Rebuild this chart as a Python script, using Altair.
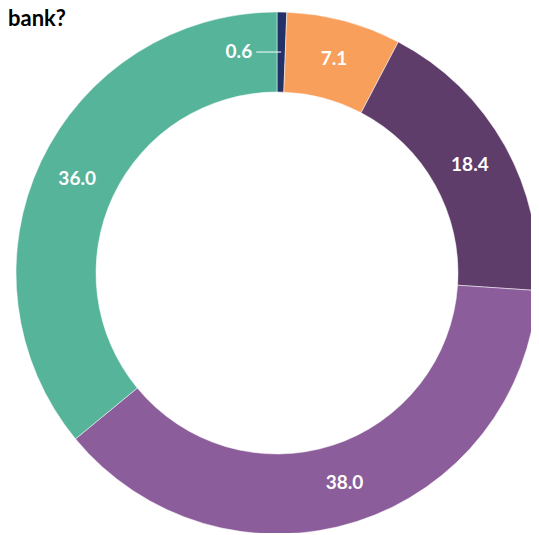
import math
import numpy as np
import pandas as pd
import altair as alt

# ---- data ----
categories = ["Category A", "Category B", "Category C", "Category D", "Category E"]
values = [0.6, 7.1, 18.4, 38.0, 36.0]
colors = ["#223168", "#f89f5b", "#5f3d6a", "#8c5d9b", "#55b49a"]
title_text = "bank?"

# ---- geometry (styling) ----
CX, CY = 269, 265
R_OUT, R_IN, R_LAB = 261, 181, 221
LEADER = 25

df = pd.DataFrame({"category": categories, "value": values, "order": list(range(len(values)))})
total = float(sum(values))
mid = (df["value"].cumsum() - df["value"] / 2) / total * 2 * math.pi
df["label"] = df["value"].map(lambda v: f"{v:.1f}")
df["big_label"] = [l if v >= 2 else "" for l, v in zip(df["label"], df["value"])]
df["lx2"] = CX + R_LAB * np.sin(mid)
df["ly"] = CY - R_LAB * np.cos(mid)
df["lx1"] = df["lx2"] - LEADER

base = alt.Chart(df)
theta = alt.Theta("value:Q", stack=True)
order = alt.Order("order:Q")
color = alt.Color("category:N", scale=alt.Scale(domain=categories, range=colors), legend=None)

arcs = base.mark_arc(outerRadius=R_OUT, innerRadius=R_IN, stroke="white", strokeWidth=0.5).encode(
    theta=theta, color=color, order=order, x=alt.value(CX), y=alt.value(CY)
)

labels = base.mark_text(
    radius=R_LAB, font="Lato", fontSize=19, fontWeight="bold", color="white",
    align="center", baseline="middle"
).encode(theta=theta, order=order, text="big_label:N", x=alt.value(CX), y=alt.value(CY))

small = base.transform_filter("datum.value < 2")
leader = small.mark_rule(color="white", strokeWidth=1).encode(
    x=alt.X("lx1:Q", scale=None, axis=None),
    x2="lx2:Q",
    y=alt.Y("ly:Q", scale=None, axis=None),
)
small_labels = small.mark_text(
    font="Lato", fontSize=19, fontWeight="bold", color="white",
    align="right", baseline="middle", dx=-4
).encode(
    x=alt.X("lx1:Q", scale=None, axis=None),
    y=alt.Y("ly:Q", scale=None, axis=None),
    text="label:N",
)

title = alt.Chart(pd.DataFrame({"t": [title_text]})).mark_text(
    font="Lato", fontSize=22, fontWeight="bold", color="black", align="left", baseline="alphabetic"
).encode(text="t:N", x=alt.value(0), y=alt.value(18))

chart = alt.layer(arcs, labels, leader, small_labels, title).properties(
    width=523, height=525, padding=0, autosize=alt.AutoSizeParams(type="none")
).configure_view(stroke=None)

chart.save("out.html", embed_options={"renderer": "svg", "actions": False})
